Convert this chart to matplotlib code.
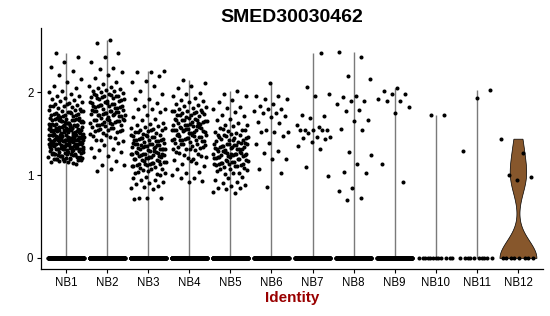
import numpy as np
import matplotlib
matplotlib.use('Agg')
import matplotlib.pyplot as plt

plt.rcParams['font.family'] = ['Liberation Sans', 'DejaVu Sans']

gene = 'SMED30030462'
clusters = ['NB1', 'NB2', 'NB3', 'NB4', 'NB5', 'NB6', 'NB7', 'NB8', 'NB9', 'NB10', 'NB11', 'NB12']

# expression of the cells with non-zero values
nb1 = [2.48, 2.43, 2.37, 2.31, 2.26, 2.21, 2.16, 2.12, 2.08, 2.05, 2.02, 2.00, 1.98, 1.96, 1.95, 1.93, 1.92, 1.91,
       1.89, 1.88, 1.87, 1.86, 1.85, 1.84, 1.83, 1.82, 1.81, 1.80, 1.86, 1.83,
       1.79, 1.78, 1.77, 1.76, 1.75, 1.74, 1.73, 1.72, 1.71, 1.70, 1.78, 1.76, 1.74, 1.72, 1.71, 1.79, 1.75, 1.73,
       1.69, 1.68, 1.67, 1.66, 1.65, 1.64, 1.63, 1.62, 1.61, 1.60, 1.69, 1.67, 1.66, 1.64, 1.63, 1.61, 1.68, 1.65,
       1.62, 1.60, 1.69, 1.66, 1.64, 1.62, 1.61, 1.67, 1.65, 1.63, 1.68, 1.60,
       1.59, 1.58, 1.57, 1.56, 1.55, 1.54, 1.53, 1.52, 1.51, 1.50, 1.59, 1.57, 1.56, 1.54, 1.53, 1.51, 1.58, 1.55,
       1.52, 1.50, 1.59, 1.58, 1.56, 1.55, 1.53, 1.52, 1.57, 1.54, 1.51, 1.50, 1.58, 1.56, 1.55, 1.53, 1.52, 1.59,
       1.57, 1.54, 1.51, 1.55,
       1.49, 1.48, 1.47, 1.46, 1.45, 1.44, 1.43, 1.42, 1.41, 1.40, 1.49, 1.47, 1.46, 1.44, 1.43, 1.41, 1.48, 1.45,
       1.42, 1.40, 1.49, 1.48, 1.46, 1.45, 1.43, 1.42, 1.47, 1.44, 1.41, 1.40, 1.48, 1.46, 1.45, 1.43, 1.42, 1.49,
       1.47, 1.44, 1.41, 1.45, 1.46, 1.43, 1.48, 1.44, 1.42,
       1.39, 1.38, 1.37, 1.36, 1.35, 1.34, 1.33, 1.32, 1.31, 1.30, 1.39, 1.37, 1.36, 1.34, 1.33, 1.31, 1.38, 1.35,
       1.32, 1.30, 1.39, 1.38, 1.36, 1.35, 1.33, 1.32, 1.37, 1.34, 1.31, 1.30, 1.38, 1.36, 1.35, 1.33, 1.32, 1.39,
       1.37, 1.34, 1.31, 1.35,
       1.29, 1.28, 1.27, 1.26, 1.25, 1.24, 1.23, 1.22, 1.21, 1.20, 1.29, 1.27, 1.26, 1.24, 1.23, 1.21, 1.28, 1.25,
       1.22, 1.20, 1.29, 1.26, 1.24, 1.22, 1.21, 1.27, 1.25, 1.23, 1.28, 1.20,
       1.19, 1.18, 1.17, 1.16, 1.15, 1.17, 1.18, 1.16, 1.19, 1.14]
nb2 = [2.63, 2.60, 2.48, 2.42, 2.36, 2.29, 2.28, 2.24, 2.21, 2.17, 2.13, 2.10, 2.08, 2.06, 2.05, 2.04, 2.03, 2.02,
       2.01, 2.00,
       1.99, 1.98, 1.97, 1.96, 1.95, 1.94, 1.93, 1.92, 1.91, 1.90, 1.98, 1.96, 1.94, 1.92, 1.97, 1.93,
       1.89, 1.88, 1.87, 1.86, 1.85, 1.84, 1.83, 1.82, 1.81, 1.80, 1.88, 1.86, 1.84, 1.82, 1.87, 1.83, 1.81, 1.85,
       1.79, 1.78, 1.77, 1.76, 1.75, 1.74, 1.73, 1.72, 1.71, 1.70, 1.78, 1.76, 1.74, 1.72, 1.77, 1.73, 1.71, 1.75,
       1.79, 1.74,
       1.69, 1.68, 1.67, 1.66, 1.65, 1.64, 1.63, 1.62, 1.61, 1.60, 1.68, 1.66, 1.64, 1.62, 1.67, 1.63, 1.61, 1.65,
       1.59, 1.58, 1.57, 1.56, 1.55, 1.54, 1.53, 1.52, 1.51, 1.50, 1.57, 1.55, 1.53,
       1.49, 1.47, 1.45, 1.43, 1.41, 1.46, 1.42,
       1.39, 1.36, 1.33, 1.31, 1.30,
       1.28, 1.23, 1.22, 1.17, 1.12, 1.12, 1.08, 1.05]
nb3 = [2.26, 2.25, 2.24, 2.20, 2.14, 2.13, 2.08, 2.02, 1.98, 1.92, 1.92, 1.87, 1.84, 1.80, 1.80, 1.80, 1.76, 1.72,
       1.70, 1.68, 1.66, 1.63, 1.62, 1.60,
       1.59, 1.58, 1.57, 1.56, 1.55, 1.54, 1.53, 1.52, 1.51, 1.50, 1.57, 1.54, 1.52,
       1.49, 1.48, 1.47, 1.46, 1.45, 1.44, 1.43, 1.42, 1.41, 1.40, 1.48, 1.46, 1.44, 1.42, 1.47, 1.43, 1.41, 1.45,
       1.39, 1.38, 1.37, 1.36, 1.35, 1.34, 1.33, 1.32, 1.31, 1.30, 1.38, 1.36, 1.34, 1.32, 1.37, 1.33, 1.31, 1.35,
       1.39, 1.34, 1.36, 1.32,
       1.29, 1.28, 1.27, 1.26, 1.25, 1.24, 1.23, 1.22, 1.21, 1.20, 1.28, 1.26, 1.24, 1.22, 1.27, 1.23, 1.21, 1.25,
       1.29, 1.24, 1.26, 1.22,
       1.19, 1.18, 1.17, 1.16, 1.15, 1.14, 1.13, 1.12, 1.11, 1.10, 1.18, 1.16, 1.14, 1.12, 1.17, 1.13, 1.11, 1.15,
       1.09, 1.07, 1.05, 1.03, 1.01, 1.06, 1.02, 1.08, 1.04, 1.00,
       0.98, 0.96, 0.94, 0.94, 0.92, 0.90, 0.89, 0.87, 0.86, 0.85, 0.83,
       0.73, 0.72, 0.72, 0.71]
nb4 = [2.15, 2.11, 2.07, 2.05, 1.99, 1.98, 1.95, 1.93, 1.91, 1.90, 1.88, 1.86, 1.85, 1.83, 1.82, 1.81, 1.80,
       1.79, 1.78, 1.77, 1.76, 1.75, 1.74, 1.73, 1.72, 1.71, 1.70, 1.78, 1.75, 1.72, 1.76,
       1.69, 1.68, 1.67, 1.66, 1.65, 1.64, 1.63, 1.62, 1.61, 1.60, 1.68, 1.66, 1.64, 1.62, 1.67, 1.63, 1.61, 1.65,
       1.59, 1.58, 1.57, 1.56, 1.55, 1.54, 1.53, 1.52, 1.51, 1.50, 1.58, 1.56, 1.54, 1.52, 1.57, 1.53, 1.51, 1.55,
       1.59, 1.54,
       1.49, 1.48, 1.47, 1.46, 1.45, 1.44, 1.43, 1.42, 1.41, 1.40, 1.48, 1.46, 1.44, 1.42, 1.47, 1.43, 1.41, 1.45,
       1.39, 1.38, 1.37, 1.36, 1.35, 1.34, 1.33, 1.32, 1.31, 1.30, 1.37, 1.34, 1.31,
       1.28, 1.26, 1.24, 1.22, 1.20, 1.27, 1.23, 1.21,
       1.18, 1.15, 1.13, 1.11, 1.17,
       1.07, 1.04, 1.02, 1.00, 0.97, 0.96, 0.93, 0.92]
nb5 = [2.01, 1.98, 1.95, 1.91, 1.88, 1.82, 1.81, 1.80, 1.76, 1.73, 1.71, 1.68, 1.66, 1.63, 1.61, 1.60,
       1.59, 1.57, 1.55, 1.53, 1.52, 1.51, 1.56, 1.54, 1.50,
       1.49, 1.48, 1.47, 1.46, 1.45, 1.44, 1.43, 1.42, 1.41, 1.40, 1.48, 1.45, 1.42, 1.46,
       1.39, 1.38, 1.37, 1.36, 1.35, 1.34, 1.33, 1.32, 1.31, 1.30, 1.38, 1.36, 1.34, 1.32, 1.37, 1.33, 1.31, 1.35,
       1.39, 1.34,
       1.29, 1.28, 1.27, 1.26, 1.25, 1.24, 1.23, 1.22, 1.21, 1.20, 1.28, 1.26, 1.24, 1.22, 1.27, 1.23, 1.21, 1.25,
       1.29, 1.24, 1.26, 1.22,
       1.19, 1.18, 1.17, 1.16, 1.15, 1.14, 1.13, 1.12, 1.11, 1.10, 1.18, 1.16, 1.14, 1.12, 1.17, 1.13, 1.11, 1.15,
       1.09, 1.07, 1.05, 1.03, 1.01, 1.06, 1.02, 1.08,
       0.98, 0.96, 0.94, 0.92, 0.90, 0.88, 0.87, 0.85, 0.84, 0.83, 0.80, 0.79]
nb6 = [2.11, 1.96, 1.95, 1.92, 1.92, 1.86, 1.83, 1.80, 1.80, 1.78, 1.75, 1.75, 1.71, 1.70, 1.64, 1.63, 1.54,
       1.52, 1.52, 1.52, 1.47, 1.39, 1.38, 1.29, 1.27, 1.19, 1.19, 1.07, 1.02, 0.86]
nb7 = [2.47, 2.06, 1.98, 1.95, 1.73, 1.71, 1.69, 1.61, 1.58, 1.55, 1.55, 1.55, 1.54, 1.54, 1.51, 1.46, 1.46,
       1.45, 1.44, 1.40, 1.35, 1.32, 1.10, 0.99]
nb8 = [2.49, 2.43, 2.20, 2.16, 1.95, 1.94, 1.90, 1.89, 1.86, 1.79, 1.77, 1.67, 1.65, 1.56, 1.54, 1.28, 1.24,
       1.14, 1.04, 1.02, 0.85, 0.81, 0.73, 0.70]
nb9 = [2.05, 2.01, 1.98, 1.98, 1.92, 1.90, 1.90, 1.82, 1.75, 1.14, 0.92]
nb10 = [1.72, 1.72]
nb11 = [2.03, 1.93, 1.29]
nb12 = [1.44, 1.265, 1.00, 0.98, 0.94]

# number of cells sitting at zero in each cluster
n_zero = [400, 400, 400, 400, 400, 200, 250, 250, 200, 12, 10, 8]

expressed = [nb1, nb2, nb3, nb4, nb5, nb6, nb7, nb8, nb9, nb10, nb11, nb12]
fill_nb12 = '#87572C'

W, H = 550, 316
fig = plt.figure(figsize=(W / 100, H / 100), dpi=100)
ax = fig.add_axes([41 / W, 1 - 269 / H, (543 - 41) / W, (269 - 28) / H])

phi = 0.6180339887
half = 0.43

for i, vals in enumerate(expressed):
    pos = i + 1
    allv = np.concatenate([np.zeros(n_zero[i]), np.array(vals)])
    if i == 11:
        # the only cluster with a visible violin body
        grid = np.linspace(0, allv.max(), 200)
        bw = 0.21
        dens = np.exp(-0.5 * ((grid[:, None] - allv[None, :]) / bw) ** 2).sum(axis=1)
        w = dens / dens.max() * 0.45
        ax.fill_betweenx(grid, pos - w, pos + w, facecolor=fill_nb12, edgecolor='black',
                         linewidth=0.5, zorder=1)
    else:
        # most cells are zero, so the violin collapses into a thin stem
        ax.vlines(pos, 0, allv.max(), color='#7a7a7a', linewidth=1.0, zorder=1)
    idx = np.arange(len(allv))
    jit = ((idx * phi + i * 0.37) % 1 - 0.5) * 2 * half
    ax.scatter(pos + jit, allv, s=8.5, color='black', linewidths=0, zorder=2)

ax.set_xlim(0.39, 12.61)
ax.set_ylim(-0.133, 2.776)
ax.set_xticks(range(1, 13))
ax.set_xticklabels(clusters)
ax.set_yticks([0, 1, 2])
ax.set_yticklabels(['0', '1', '2'])
for s in ['top', 'right']:
    ax.spines[s].set_visible(False)
for s in ['left', 'bottom']:
    ax.spines[s].set_linewidth(0.9)
ax.tick_params(length=3, width=0.8, pad=2.5, labelsize=8.3, colors='black')

fig.text(0.531, 1 - 22 / H, gene, ha='center', va='baseline', fontsize=14, fontweight='bold')
fig.text(0.531, 1 - 302 / H, 'Identity', ha='center', va='baseline', fontsize=11,
         fontweight='bold', color='#990000')

fig.savefig('out.png', dpi=100)
